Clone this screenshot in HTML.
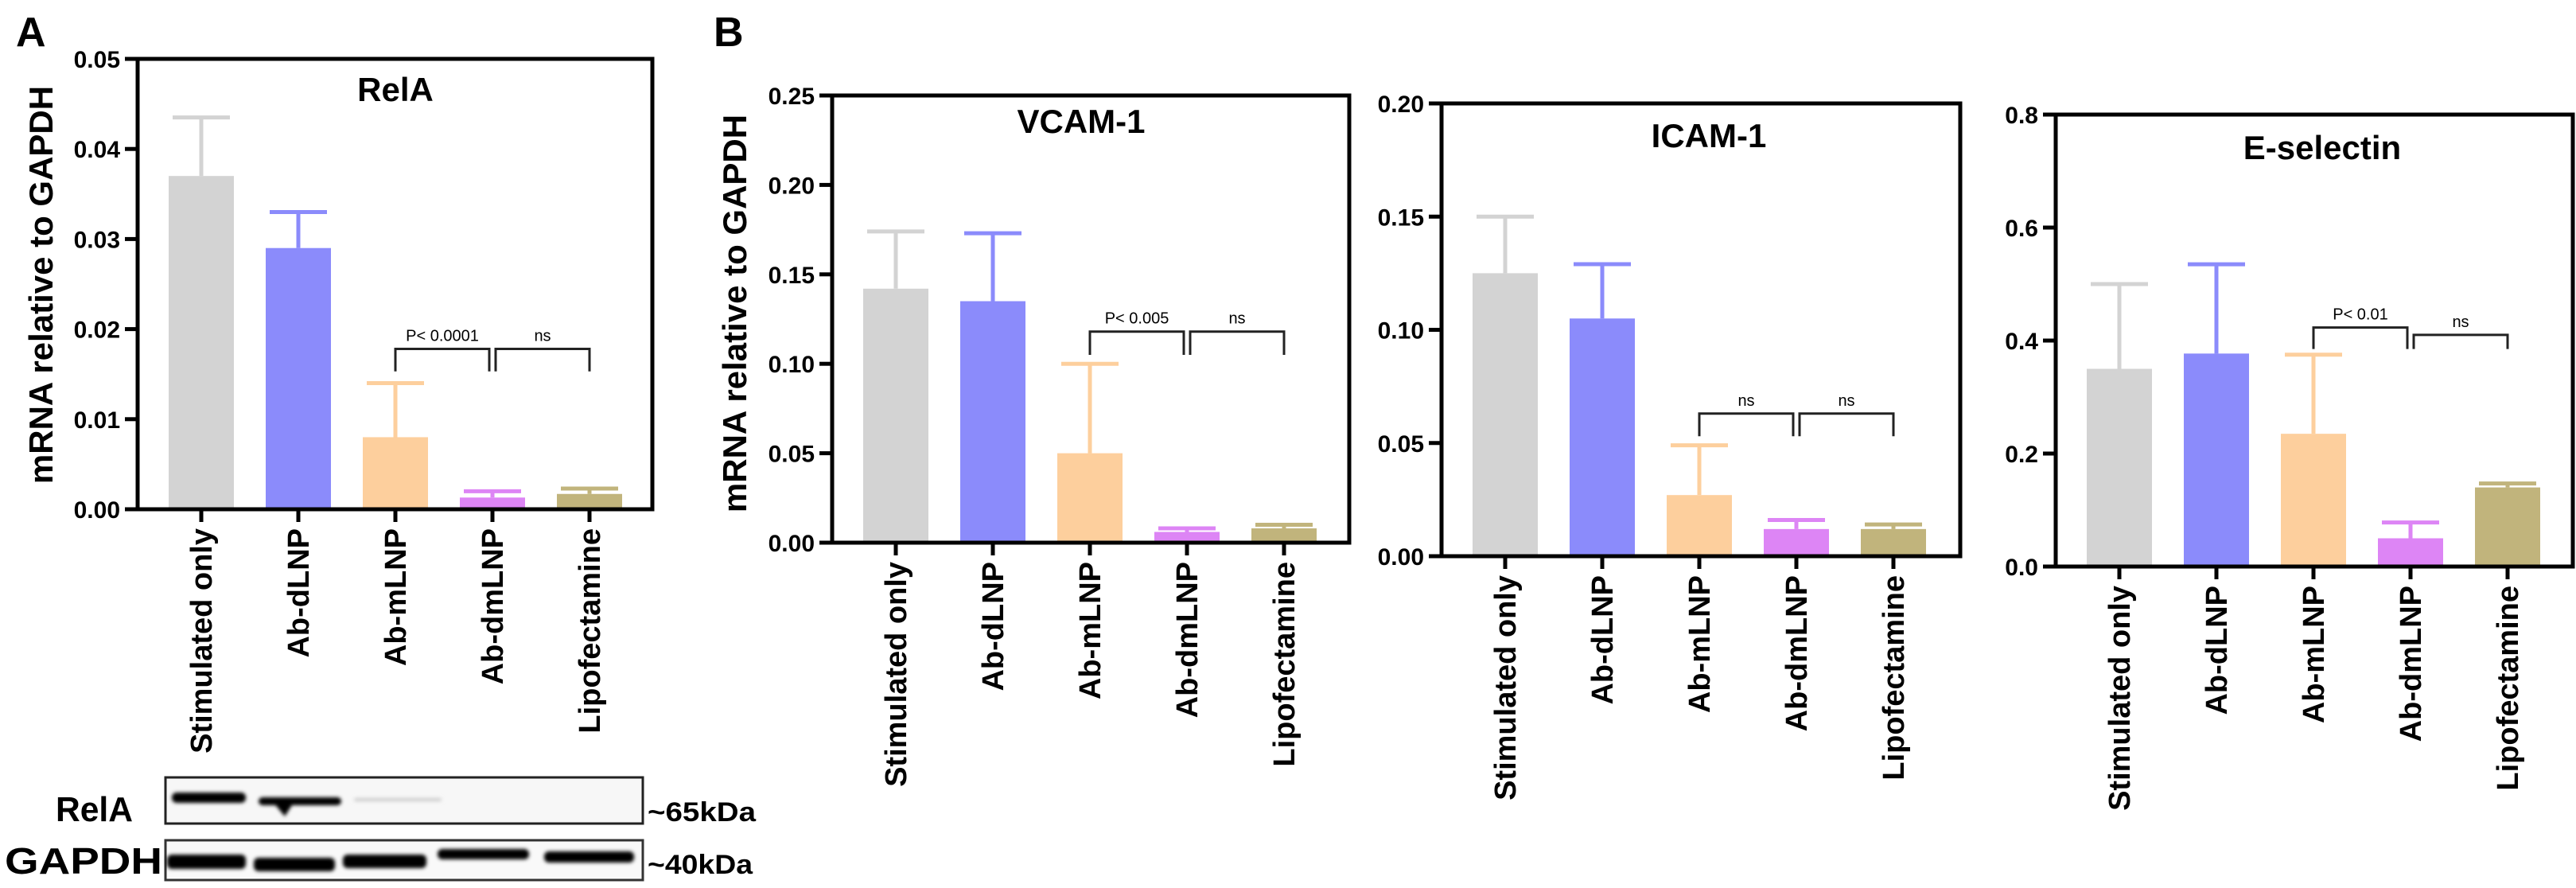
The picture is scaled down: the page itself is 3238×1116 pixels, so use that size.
<!DOCTYPE html>
<html><head><meta charset="utf-8">
<style>
html,body{margin:0;padding:0;background:#fff;}
svg{display:block;font-family:"Liberation Sans",Arial,sans-serif;}
</style></head>
<body>
<svg id="fig" width="3238" height="1116" viewBox="0 0 3238 1116" xmlns="http://www.w3.org/2000/svg">
<defs>
<filter id="blur" x="-20%" y="-50%" width="140%" height="200%"><feGaussianBlur stdDeviation="2.5"/></filter>
</defs>
<text x="20" y="58" font-size="52" font-weight="bold">A</text>
<text x="897" y="58" font-size="52" font-weight="bold">B</text>
<g id="charts"></g>
<g>
  <text x="70" y="1032" font-size="44" font-weight="bold" textLength="97" lengthAdjust="spacingAndGlyphs">RelA</text>
  <text x="6" y="1098" font-size="46" font-weight="bold" textLength="198" lengthAdjust="spacingAndGlyphs">GAPDH</text>
  <rect x="208" y="977" width="600" height="58" fill="#f7f7f7" stroke="#222" stroke-width="3"/>
  <rect x="208" y="1056" width="600" height="50" fill="#f9f9f9" stroke="#333" stroke-width="3"/>
  <g filter="url(#blur)" fill="#000">
    <rect x="216" y="996" width="93" height="13" rx="6"/>
    <rect x="325" y="1002" width="104" height="10" rx="5"/>
    <path d="M340 1004 L358 1026 L372 1004 Z"/>
    <rect x="445" y="1003" width="110" height="4" rx="2" fill="#ccc"/>
    <rect x="210" y="1074" width="99" height="18" rx="6"/>
    <rect x="319" y="1078" width="102" height="17" rx="6"/>
    <rect x="431" y="1074" width="105" height="17" rx="6"/>
    <rect x="550" y="1067" width="115" height="13" rx="6"/>
    <rect x="684" y="1070" width="113" height="14" rx="6"/>
  </g>
  <text x="814" y="1032" font-size="34" font-weight="bold" textLength="136" lengthAdjust="spacingAndGlyphs">~65kDa</text>
  <text x="814" y="1098" font-size="34" font-weight="bold" textLength="132" lengthAdjust="spacingAndGlyphs">~40kDa</text>
</g>
</svg>
<script>
const categories = ["Stimulated only","Ab-dLNP","Ab-mLNP","Ab-dmLNP","Lipofectamine"];
const colors = ["#d3d3d3","#8b8bfb","#fdcf9d","#dd85f5","#c1b47c"];
const relaMeans = [0.037,0.029,0.008,0.0013,0.0017];
const relaErrs  = [0.0435,0.033,0.014,0.002,0.0023];
const relaTicks = ["0.00","0.01","0.02","0.03","0.04","0.05"];
const vcamMeans = [0.142,0.135,0.05,0.006,0.008];
const vcamErrs  = [0.174,0.173,0.1,0.008,0.01];
const vcamTicks = ["0.00","0.05","0.10","0.15","0.20","0.25"];
const icamMeans = [0.125,0.105,0.027,0.012,0.012];
const icamErrs  = [0.15,0.129,0.049,0.016,0.014];
const icamTicks = ["0.00","0.05","0.10","0.15","0.20"];
const eselMeans = [0.35,0.377,0.235,0.05,0.14];
const eselErrs  = [0.5,0.535,0.375,0.078,0.147];
const eselTicks = ["0.0","0.2","0.4","0.6","0.8"];
const relaSig = [{a:2,b:3,y:0.0178,e:0.0153,t:"P< 0.0001"},{a:3,b:4,y:0.0178,e:0.0153,t:"ns"}];
const vcamSig = [{a:2,b:3,y:0.118,e:0.105,t:"P< 0.005"},{a:3,b:4,y:0.118,e:0.105,t:"ns"}];
const icamSig = [{a:2,b:3,y:0.063,e:0.053,t:"ns"},{a:3,b:4,y:0.063,e:0.053,t:"ns"}];
const eselSig = [{a:2,b:3,y:0.423,e:0.385,t:"P< 0.01"},{a:3,b:4,y:0.41,e:0.385,t:"ns"}];

const NS="http://www.w3.org/2000/svg";
const root=document.getElementById('charts');
function mk(tag,attrs,parent,txt){const e=document.createElementNS(NS,tag);for(const k in attrs)e.setAttribute(k,attrs[k]);if(txt!==undefined)e.textContent=txt;parent.appendChild(e);return e;}

function chart(cfg){
  const g=mk('g',{},root);
  
  
  const ticks=cfg.ticks, ymax=parseFloat(ticks[ticks.length-1]);
  const y=v=>cfg.bottom-(v/ymax)*(cfg.bottom-cfg.top);
  const x=i=>cfg.left+80+i*122;
  const bw=82;
  // bars
  cfg.means.forEach((m,i)=>{
    const cx=x(i);
    const er=mk('path',{d:`M${cx} ${y(m)} V${y(cfg.errs[i])} M${cx-36} ${y(cfg.errs[i])} H${cx+36}`,stroke:colors[i],'stroke-width':5,fill:'none'},g);
    
    
    const r=mk('rect',{x:cx-bw/2,y:y(m),width:bw,height:cfg.bottom-y(m),fill:colors[i]},g);
    
    
    const tk=mk('line',{x1:cx,x2:cx,y1:cfg.bottom,y2:cfg.bottom+16,stroke:'#000','stroke-width':5},g);
    
    
    const lx=cx+13, ly=cfg.bottom+24;
    const t=mk('text',{x:lx,y:ly,'font-size':38,'font-weight':'bold','text-anchor':'end',transform:`rotate(-90 ${lx} ${ly})`},g,categories[i]);
    
    
  });
  // frame
  const fr=mk('rect',{x:cfg.left,y:cfg.top,width:cfg.right-cfg.left,height:cfg.bottom-cfg.top,fill:'none',stroke:'#000','stroke-width':5},g);
  
  
  ticks.forEach(tv=>{
    const v=parseFloat(tv);
    const l=mk('line',{x1:cfg.left-16,x2:cfg.left,y1:y(v),y2:y(v),stroke:'#000','stroke-width':5},g);
    
    
    const t=mk('text',{x:cfg.left-22,y:y(v)+11,'font-size':30,'font-weight':'bold','text-anchor':'end'},g,tv);
    
    
  });
  const ti=mk('text',{x:cfg.tx,y:cfg.ty+15,'font-size':42,'font-weight':'bold','text-anchor':'middle'},g,cfg.title);
  
  
  if(cfg.ylx){
    const yt=mk('text',{x:cfg.ylx,y:cfg.yly,'font-size':42,'font-weight':'bold','text-anchor':'middle',transform:`rotate(-90 ${cfg.ylx} ${cfg.yly})`},g,'mRNA relative to GAPDH');
    
    
  }
  cfg.sig.forEach((s,k)=>{
    const x1=x(s.a)+(k===1?4:0), x2=x(s.b)-(k===0?4:0);
    const p=mk('path',{d:`M${x1} ${y(s.e)} V${y(s.y)} H${x2} V${y(s.e)}`,stroke:'#222','stroke-width':3,fill:'none'},g);
    
    
    const t=mk('text',{x:(x1+x2)/2,y:y(s.y)-10,'font-size':20,'text-anchor':'middle'},g,s.t);
    
    
  });
}
chart({name:'rela-chart',left:173,right:820,top:74,bottom:640,ticks:relaTicks,means:relaMeans,errs:relaErrs,sig:relaSig,title:'RelA',tx:497,ty:112,ylx:66,yly:358});
chart({name:'vcam-chart',left:1046,right:1696,top:120,bottom:682,ticks:vcamTicks,means:vcamMeans,errs:vcamErrs,sig:vcamSig,title:'VCAM-1',tx:1359,ty:152,ylx:938,yly:394});
chart({name:'icam-chart',left:1812,right:2464,top:130,bottom:699,ticks:icamTicks,means:icamMeans,errs:icamErrs,sig:icamSig,title:'ICAM-1',tx:2148,ty:170});
chart({name:'eselectin-chart',left:2584,right:3234,top:144,bottom:712,ticks:eselTicks,means:eselMeans,errs:eselErrs,sig:eselSig,title:'E-selectin',tx:2919,ty:185});
</script>
</body></html>
